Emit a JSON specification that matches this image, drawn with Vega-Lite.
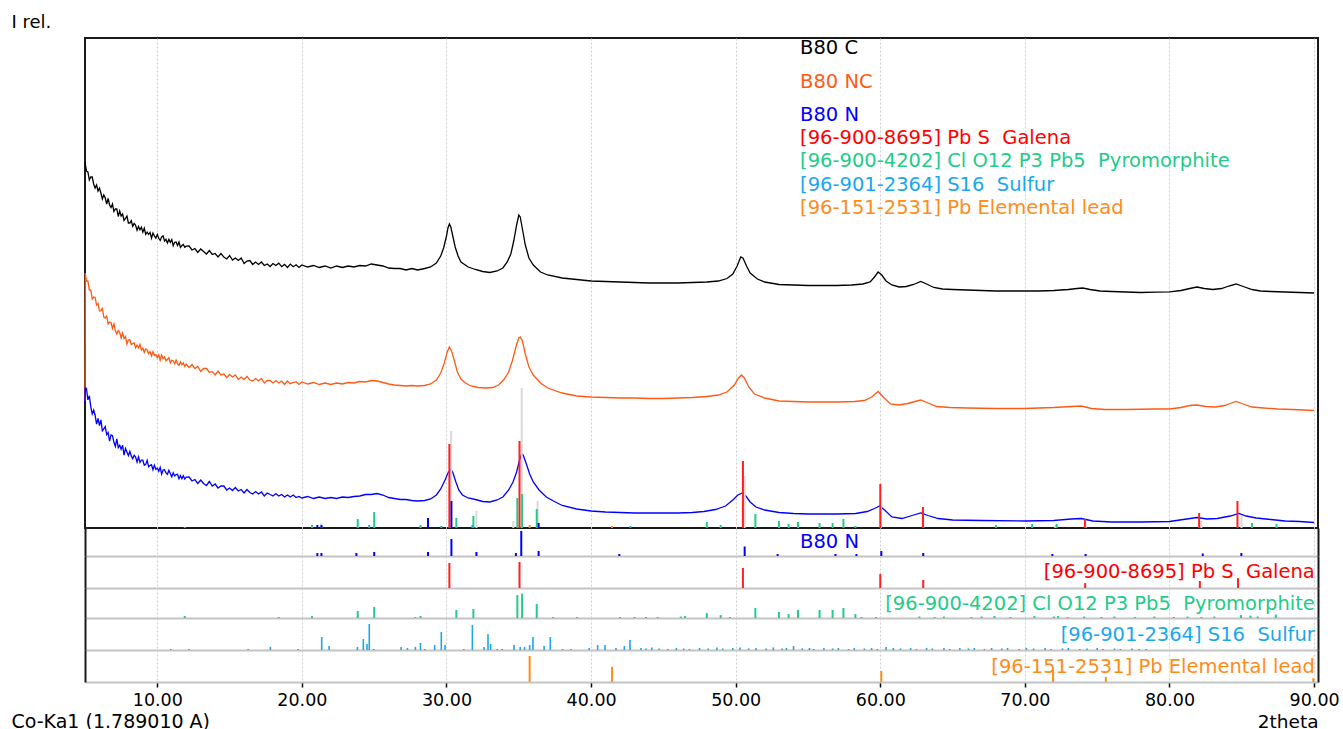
{
  "$schema": "https://vega.github.io/schema/vega-lite/v6.json",
  "autosize": {"type": "pad"},
  "padding": {"left": 10, "top": 12, "right": 2, "bottom": 0},
  "background": "white",
  "bounds": "flush",
  "spacing": 0,
  "config": {
    "font": "DejaVu Sans",
    "view": {"stroke": null},
    "axis": {"grid": false, "labels": false, "ticks": false, "domain": false, "title": null}
  },
  "datasets": {
    "curves": [
      {"s":"B80 C","t":5,"i":366},{"s":"B80 C","t":5.1,"i":357},{"s":"B80 C","t":5.2,"i":356},{"s":"B80 C","t":5.3,"i":348},{"s":"B80 C","t":5.4,"i":351},{"s":"B80 C","t":5.5,"i":351},{"s":"B80 C","t":5.6,"i":344},{"s":"B80 C","t":5.7,"i":340},{"s":"B80 C","t":5.8,"i":343},{"s":"B80 C","t":5.9,"i":337},{"s":"B80 C","t":6,"i":340},{"s":"B80 C","t":6.1,"i":335},{"s":"B80 C","t":6.2,"i":329},{"s":"B80 C","t":6.3,"i":333},{"s":"B80 C","t":6.4,"i":330},{"s":"B80 C","t":6.5,"i":324},{"s":"B80 C","t":6.6,"i":329.5},{"s":"B80 C","t":6.7,"i":323},{"s":"B80 C","t":6.8,"i":320.5},{"s":"B80 C","t":6.9,"i":324},{"s":"B80 C","t":7,"i":316.5},{"s":"B80 C","t":7.1,"i":319},{"s":"B80 C","t":7.2,"i":319},{"s":"B80 C","t":7.3,"i":311.5},{"s":"B80 C","t":7.4,"i":317},{"s":"B80 C","t":7.5,"i":312},{"s":"B80 C","t":7.6,"i":314},{"s":"B80 C","t":7.7,"i":307.5},{"s":"B80 C","t":7.8,"i":309.5},{"s":"B80 C","t":7.9,"i":312},{"s":"B80 C","t":8,"i":305},{"s":"B80 C","t":8.1,"i":305},{"s":"B80 C","t":8.2,"i":307.4},{"s":"B80 C","t":8.3,"i":301.6},{"s":"B80 C","t":8.4,"i":304.6},{"s":"B80 C","t":8.5,"i":302.8},{"s":"B80 C","t":8.6,"i":297.8},{"s":"B80 C","t":8.7,"i":301.6},{"s":"B80 C","t":8.8,"i":298.2},{"s":"B80 C","t":8.9,"i":300.9},{"s":"B80 C","t":9,"i":295.9},{"s":"B80 C","t":9.1,"i":299.7},{"s":"B80 C","t":9.2,"i":293.6},{"s":"B80 C","t":9.3,"i":295.8},{"s":"B80 C","t":9.4,"i":293.7},{"s":"B80 C","t":9.5,"i":295.6},{"s":"B80 C","t":9.6,"i":289.8},{"s":"B80 C","t":9.7,"i":294.9},{"s":"B80 C","t":9.8,"i":292},{"s":"B80 C","t":9.9,"i":289.9},{"s":"B80 C","t":10,"i":293.4},{"s":"B80 C","t":10.1,"i":289.7},{"s":"B80 C","t":10.2,"i":287.6},{"s":"B80 C","t":10.3,"i":291.1},{"s":"B80 C","t":10.4,"i":292.2},{"s":"B80 C","t":10.5,"i":286.9},{"s":"B80 C","t":10.6,"i":288.8},{"s":"B80 C","t":10.7,"i":285.1},{"s":"B80 C","t":10.8,"i":288.6},{"s":"B80 C","t":10.9,"i":285.7},{"s":"B80 C","t":11,"i":288.4},{"s":"B80 C","t":11.1,"i":282.3},{"s":"B80 C","t":11.2,"i":285.8},{"s":"B80 C","t":11.3,"i":286.1},{"s":"B80 C","t":11.4,"i":282.4},{"s":"B80 C","t":11.5,"i":285.9},{"s":"B80 C","t":11.6,"i":280.6},{"s":"B80 C","t":11.7,"i":282.5},{"s":"B80 C","t":11.8,"i":283.6},{"s":"B80 C","t":11.9,"i":280.7},{"s":"B80 C","t":12,"i":281.8},{"s":"B80 C","t":12.2,"i":282},{"s":"B80 C","t":12.4,"i":278},{"s":"B80 C","t":12.6,"i":279.5},{"s":"B80 C","t":12.8,"i":275.5},{"s":"B80 C","t":13,"i":279},{"s":"B80 C","t":13.2,"i":276.5},{"s":"B80 C","t":13.4,"i":274},{"s":"B80 C","t":13.6,"i":277.5},{"s":"B80 C","t":13.8,"i":273.5},{"s":"B80 C","t":14,"i":274.5},{"s":"B80 C","t":14.2,"i":271},{"s":"B80 C","t":14.4,"i":274.5},{"s":"B80 C","t":14.6,"i":271},{"s":"B80 C","t":14.8,"i":269},{"s":"B80 C","t":15,"i":272.5},{"s":"B80 C","t":15.2,"i":268},{"s":"B80 C","t":15.4,"i":270},{"s":"B80 C","t":15.6,"i":267.5},{"s":"B80 C","t":15.8,"i":270},{"s":"B80 C","t":16,"i":264.5},{"s":"B80 C","t":16.2,"i":267},{"s":"B80 C","t":16.4,"i":267.5},{"s":"B80 C","t":16.6,"i":263.5},{"s":"B80 C","t":16.8,"i":266},{"s":"B80 C","t":17,"i":263.5},{"s":"B80 C","t":17.2,"i":266},{"s":"B80 C","t":17.4,"i":262.5},{"s":"B80 C","t":17.6,"i":264},{"s":"B80 C","t":17.8,"i":261.5},{"s":"B80 C","t":18,"i":264.5},{"s":"B80 C","t":18.2,"i":262.5},{"s":"B80 C","t":18.4,"i":264.8},{"s":"B80 C","t":18.6,"i":261.3},{"s":"B80 C","t":18.8,"i":263.6},{"s":"B80 C","t":19,"i":260.5},{"s":"B80 C","t":19.2,"i":263.9},{"s":"B80 C","t":19.4,"i":261.3},{"s":"B80 C","t":19.6,"i":263.2},{"s":"B80 C","t":19.8,"i":260.6},{"s":"B80 C","t":20,"i":263},{"s":"B80 C","t":20.4,"i":261},{"s":"B80 C","t":20.8,"i":262.5},{"s":"B80 C","t":21.2,"i":260.5},{"s":"B80 C","t":21.6,"i":262},{"s":"B80 C","t":22,"i":260},{"s":"B80 C","t":22.4,"i":262},{"s":"B80 C","t":22.8,"i":260.5},{"s":"B80 C","t":23.2,"i":262},{"s":"B80 C","t":23.6,"i":261},{"s":"B80 C","t":24,"i":262.5},{"s":"B80 C","t":24.4,"i":262},{"s":"B80 C","t":24.8,"i":264},{"s":"B80 C","t":25.2,"i":263},{"s":"B80 C","t":25.6,"i":262},{"s":"B80 C","t":26,"i":260},{"s":"B80 C","t":26.4,"i":259.5},{"s":"B80 C","t":26.8,"i":259.5},{"s":"B80 C","t":27.2,"i":258},{"s":"B80 C","t":27.6,"i":259.5},{"s":"B80 C","t":28,"i":258},{"s":"B80 C","t":28.5,"i":259.5},{"s":"B80 C","t":28.9,"i":261},{"s":"B80 C","t":29.3,"i":265},{"s":"B80 C","t":29.6,"i":272},{"s":"B80 C","t":29.8,"i":280},{"s":"B80 C","t":30,"i":292},{"s":"B80 C","t":30.1,"i":300},{"s":"B80 C","t":30.2,"i":304},{"s":"B80 C","t":30.3,"i":301},{"s":"B80 C","t":30.45,"i":291},{"s":"B80 C","t":30.6,"i":281},{"s":"B80 C","t":30.8,"i":272},{"s":"B80 C","t":31,"i":266},{"s":"B80 C","t":31.5,"i":261},{"s":"B80 C","t":32,"i":258.5},{"s":"B80 C","t":32.5,"i":256.5},{"s":"B80 C","t":33,"i":255.5},{"s":"B80 C","t":33.5,"i":257},{"s":"B80 C","t":33.9,"i":260},{"s":"B80 C","t":34.2,"i":266},{"s":"B80 C","t":34.45,"i":274},{"s":"B80 C","t":34.65,"i":287},{"s":"B80 C","t":34.85,"i":303},{"s":"B80 C","t":35,"i":313},{"s":"B80 C","t":35.1,"i":311},{"s":"B80 C","t":35.25,"i":299},{"s":"B80 C","t":35.45,"i":283},{"s":"B80 C","t":35.7,"i":270},{"s":"B80 C","t":36,"i":263},{"s":"B80 C","t":36.5,"i":256},{"s":"B80 C","t":37,"i":253},{"s":"B80 C","t":38,"i":250},{"s":"B80 C","t":39,"i":248.5},{"s":"B80 C","t":40,"i":247},{"s":"B80 C","t":41,"i":246.5},{"s":"B80 C","t":42,"i":246},{"s":"B80 C","t":43,"i":245.5},{"s":"B80 C","t":44,"i":245},{"s":"B80 C","t":45,"i":245},{"s":"B80 C","t":46,"i":245},{"s":"B80 C","t":47,"i":245.5},{"s":"B80 C","t":48,"i":246},{"s":"B80 C","t":48.8,"i":247},{"s":"B80 C","t":49.4,"i":249.5},{"s":"B80 C","t":49.8,"i":254},{"s":"B80 C","t":50.1,"i":262},{"s":"B80 C","t":50.35,"i":271},{"s":"B80 C","t":50.5,"i":270},{"s":"B80 C","t":50.75,"i":262},{"s":"B80 C","t":51,"i":255},{"s":"B80 C","t":51.5,"i":249},{"s":"B80 C","t":52,"i":246},{"s":"B80 C","t":53,"i":243.5},{"s":"B80 C","t":54,"i":243},{"s":"B80 C","t":55,"i":242.5},{"s":"B80 C","t":56,"i":242.5},{"s":"B80 C","t":57,"i":242.5},{"s":"B80 C","t":58,"i":243},{"s":"B80 C","t":58.8,"i":244},{"s":"B80 C","t":59.3,"i":246},{"s":"B80 C","t":59.6,"i":251},{"s":"B80 C","t":59.85,"i":256},{"s":"B80 C","t":60.1,"i":253},{"s":"B80 C","t":60.4,"i":247},{"s":"B80 C","t":60.8,"i":243},{"s":"B80 C","t":61.3,"i":241},{"s":"B80 C","t":61.8,"i":241.5},{"s":"B80 C","t":62.3,"i":243.5},{"s":"B80 C","t":62.8,"i":246.5},{"s":"B80 C","t":63.2,"i":244},{"s":"B80 C","t":63.7,"i":240.5},{"s":"B80 C","t":64.3,"i":239},{"s":"B80 C","t":65,"i":238.5},{"s":"B80 C","t":66,"i":238},{"s":"B80 C","t":67,"i":237.5},{"s":"B80 C","t":68,"i":237},{"s":"B80 C","t":70,"i":237},{"s":"B80 C","t":71,"i":237},{"s":"B80 C","t":72,"i":237.5},{"s":"B80 C","t":73,"i":238.5},{"s":"B80 C","t":73.6,"i":239.5},{"s":"B80 C","t":74,"i":240},{"s":"B80 C","t":74.5,"i":238.5},{"s":"B80 C","t":75.2,"i":237},{"s":"B80 C","t":76,"i":236.5},{"s":"B80 C","t":77,"i":236},{"s":"B80 C","t":78,"i":235.5},{"s":"B80 C","t":79,"i":235.8},{"s":"B80 C","t":80,"i":236.2},{"s":"B80 C","t":80.8,"i":237.5},{"s":"B80 C","t":81.4,"i":239.5},{"s":"B80 C","t":81.9,"i":241},{"s":"B80 C","t":82.4,"i":239.5},{"s":"B80 C","t":83,"i":238.5},{"s":"B80 C","t":83.6,"i":239.5},{"s":"B80 C","t":84.1,"i":242},{"s":"B80 C","t":84.6,"i":244},{"s":"B80 C","t":85.1,"i":241.5},{"s":"B80 C","t":85.7,"i":238.5},{"s":"B80 C","t":86.3,"i":237},{"s":"B80 C","t":87,"i":236.5},{"s":"B80 C","t":88,"i":236},{"s":"B80 C","t":89,"i":235.5},{"s":"B80 C","t":90,"i":235},
      {"s":"B80 NC","t":5,"i":127},{"s":"B80 NC","t":5.02,"i":255},{"s":"B80 NC","t":5.1,"i":247},{"s":"B80 NC","t":5.2,"i":247},{"s":"B80 NC","t":5.3,"i":238},{"s":"B80 NC","t":5.4,"i":238},{"s":"B80 NC","t":5.5,"i":229},{"s":"B80 NC","t":5.6,"i":231},{"s":"B80 NC","t":5.7,"i":230.5},{"s":"B80 NC","t":5.8,"i":223},{"s":"B80 NC","t":5.9,"i":224.5},{"s":"B80 NC","t":6,"i":217},{"s":"B80 NC","t":6.1,"i":217.5},{"s":"B80 NC","t":6.2,"i":219.5},{"s":"B80 NC","t":6.3,"i":211},{"s":"B80 NC","t":6.4,"i":210},{"s":"B80 NC","t":6.5,"i":212},{"s":"B80 NC","t":6.6,"i":204},{"s":"B80 NC","t":6.7,"i":206},{"s":"B80 NC","t":6.8,"i":205.5},{"s":"B80 NC","t":6.9,"i":199.5},{"s":"B80 NC","t":7,"i":204},{"s":"B80 NC","t":7.1,"i":197.5},{"s":"B80 NC","t":7.2,"i":194},{"s":"B80 NC","t":7.3,"i":197.5},{"s":"B80 NC","t":7.4,"i":195.5},{"s":"B80 NC","t":7.5,"i":190},{"s":"B80 NC","t":7.6,"i":195},{"s":"B80 NC","t":7.7,"i":189.5},{"s":"B80 NC","t":7.8,"i":191.5},{"s":"B80 NC","t":7.9,"i":184},{"s":"B80 NC","t":8,"i":188},{"s":"B80 NC","t":8.1,"i":188.4},{"s":"B80 NC","t":8.2,"i":183.4},{"s":"B80 NC","t":8.3,"i":184.5},{"s":"B80 NC","t":8.4,"i":185.1},{"s":"B80 NC","t":8.5,"i":180.1},{"s":"B80 NC","t":8.6,"i":182.8},{"s":"B80 NC","t":8.7,"i":180.2},{"s":"B80 NC","t":8.8,"i":183.7},{"s":"B80 NC","t":8.9,"i":177.9},{"s":"B80 NC","t":9,"i":179.8},{"s":"B80 NC","t":9.1,"i":175.6},{"s":"B80 NC","t":9.2,"i":179.1},{"s":"B80 NC","t":9.3,"i":178.1},{"s":"B80 NC","t":9.4,"i":174.4},{"s":"B80 NC","t":9.5,"i":176.3},{"s":"B80 NC","t":9.6,"i":172.1},{"s":"B80 NC","t":9.7,"i":176.4},{"s":"B80 NC","t":9.8,"i":172.7},{"s":"B80 NC","t":9.9,"i":173.3},{"s":"B80 NC","t":10,"i":170.4},{"s":"B80 NC","t":10.1,"i":173.1},{"s":"B80 NC","t":10.2,"i":167.8},{"s":"B80 NC","t":10.3,"i":172.9},{"s":"B80 NC","t":10.4,"i":169.2},{"s":"B80 NC","t":10.5,"i":171.1},{"s":"B80 NC","t":10.6,"i":167.4},{"s":"B80 NC","t":10.7,"i":168.5},{"s":"B80 NC","t":10.8,"i":170.4},{"s":"B80 NC","t":10.9,"i":165.1},{"s":"B80 NC","t":11,"i":167.8},{"s":"B80 NC","t":11.1,"i":167.3},{"s":"B80 NC","t":11.2,"i":164.4},{"s":"B80 NC","t":11.3,"i":167.9},{"s":"B80 NC","t":11.4,"i":164.2},{"s":"B80 NC","t":11.5,"i":162.6},{"s":"B80 NC","t":11.6,"i":166.1},{"s":"B80 NC","t":11.7,"i":163.2},{"s":"B80 NC","t":11.8,"i":165.1},{"s":"B80 NC","t":11.9,"i":161.4},{"s":"B80 NC","t":12,"i":163.8},{"s":"B80 NC","t":12.2,"i":160.5},{"s":"B80 NC","t":12.4,"i":163.5},{"s":"B80 NC","t":12.6,"i":159.5},{"s":"B80 NC","t":12.8,"i":161.5},{"s":"B80 NC","t":13,"i":156.5},{"s":"B80 NC","t":13.2,"i":159.5},{"s":"B80 NC","t":13.4,"i":159.5},{"s":"B80 NC","t":13.6,"i":155.5},{"s":"B80 NC","t":13.8,"i":156.5},{"s":"B80 NC","t":14,"i":153},{"s":"B80 NC","t":14.2,"i":157},{"s":"B80 NC","t":14.4,"i":153},{"s":"B80 NC","t":14.6,"i":154},{"s":"B80 NC","t":14.8,"i":150.5},{"s":"B80 NC","t":15,"i":153.5},{"s":"B80 NC","t":15.2,"i":151},{"s":"B80 NC","t":15.4,"i":153},{"s":"B80 NC","t":15.6,"i":148.5},{"s":"B80 NC","t":15.8,"i":151},{"s":"B80 NC","t":16,"i":148.5},{"s":"B80 NC","t":16.2,"i":151.5},{"s":"B80 NC","t":16.4,"i":148},{"s":"B80 NC","t":16.6,"i":147},{"s":"B80 NC","t":16.8,"i":149.5},{"s":"B80 NC","t":17,"i":147},{"s":"B80 NC","t":17.2,"i":149.5},{"s":"B80 NC","t":17.4,"i":145},{"s":"B80 NC","t":17.6,"i":147.5},{"s":"B80 NC","t":17.8,"i":147.5},{"s":"B80 NC","t":18,"i":145},{"s":"B80 NC","t":18.2,"i":147.5},{"s":"B80 NC","t":18.4,"i":145},{"s":"B80 NC","t":18.6,"i":146.8},{"s":"B80 NC","t":18.8,"i":143.6},{"s":"B80 NC","t":19,"i":147},{"s":"B80 NC","t":19.2,"i":144.3},{"s":"B80 NC","t":19.4,"i":145.7},{"s":"B80 NC","t":19.6,"i":146.1},{"s":"B80 NC","t":19.8,"i":143.5},{"s":"B80 NC","t":20,"i":146},{"s":"B80 NC","t":20.4,"i":144},{"s":"B80 NC","t":20.8,"i":145.5},{"s":"B80 NC","t":21.2,"i":143.5},{"s":"B80 NC","t":21.6,"i":145},{"s":"B80 NC","t":22,"i":143.5},{"s":"B80 NC","t":22.4,"i":145},{"s":"B80 NC","t":22.8,"i":144},{"s":"B80 NC","t":23.2,"i":145.5},{"s":"B80 NC","t":23.6,"i":145},{"s":"B80 NC","t":24,"i":146.5},{"s":"B80 NC","t":24.4,"i":146},{"s":"B80 NC","t":24.8,"i":147.5},{"s":"B80 NC","t":25.2,"i":147},{"s":"B80 NC","t":25.6,"i":145.5},{"s":"B80 NC","t":26,"i":144},{"s":"B80 NC","t":26.4,"i":143},{"s":"B80 NC","t":26.8,"i":142.5},{"s":"B80 NC","t":27.2,"i":142},{"s":"B80 NC","t":27.6,"i":142.5},{"s":"B80 NC","t":28,"i":142},{"s":"B80 NC","t":28.5,"i":142.5},{"s":"B80 NC","t":28.9,"i":144},{"s":"B80 NC","t":29.3,"i":148},{"s":"B80 NC","t":29.6,"i":155},{"s":"B80 NC","t":29.85,"i":165},{"s":"B80 NC","t":30.05,"i":176},{"s":"B80 NC","t":30.2,"i":181},{"s":"B80 NC","t":30.35,"i":177},{"s":"B80 NC","t":30.55,"i":167},{"s":"B80 NC","t":30.75,"i":156},{"s":"B80 NC","t":31,"i":149},{"s":"B80 NC","t":31.3,"i":145},{"s":"B80 NC","t":31.7,"i":142},{"s":"B80 NC","t":32.2,"i":140.5},{"s":"B80 NC","t":32.7,"i":140},{"s":"B80 NC","t":33.2,"i":140.5},{"s":"B80 NC","t":33.6,"i":143},{"s":"B80 NC","t":34,"i":149},{"s":"B80 NC","t":34.3,"i":156},{"s":"B80 NC","t":34.55,"i":167},{"s":"B80 NC","t":34.8,"i":181},{"s":"B80 NC","t":35,"i":190},{"s":"B80 NC","t":35.1,"i":191},{"s":"B80 NC","t":35.25,"i":187},{"s":"B80 NC","t":35.45,"i":174},{"s":"B80 NC","t":35.7,"i":161},{"s":"B80 NC","t":36,"i":153},{"s":"B80 NC","t":36.5,"i":145},{"s":"B80 NC","t":37,"i":140},{"s":"B80 NC","t":38,"i":135},{"s":"B80 NC","t":39,"i":132},{"s":"B80 NC","t":40,"i":131},{"s":"B80 NC","t":41,"i":130.5},{"s":"B80 NC","t":42,"i":130},{"s":"B80 NC","t":43,"i":130},{"s":"B80 NC","t":44,"i":129.5},{"s":"B80 NC","t":45,"i":129.5},{"s":"B80 NC","t":46,"i":130},{"s":"B80 NC","t":47,"i":130.5},{"s":"B80 NC","t":48,"i":131.5},{"s":"B80 NC","t":48.8,"i":133},{"s":"B80 NC","t":49.4,"i":136},{"s":"B80 NC","t":49.9,"i":143},{"s":"B80 NC","t":50.2,"i":150},{"s":"B80 NC","t":50.4,"i":153},{"s":"B80 NC","t":50.6,"i":150},{"s":"B80 NC","t":50.9,"i":141},{"s":"B80 NC","t":51.3,"i":134},{"s":"B80 NC","t":52,"i":130},{"s":"B80 NC","t":53,"i":127},{"s":"B80 NC","t":54,"i":126.5},{"s":"B80 NC","t":55,"i":126},{"s":"B80 NC","t":57,"i":126},{"s":"B80 NC","t":58.2,"i":126.5},{"s":"B80 NC","t":58.9,"i":127.5},{"s":"B80 NC","t":59.4,"i":131},{"s":"B80 NC","t":59.85,"i":136.5},{"s":"B80 NC","t":60.2,"i":131},{"s":"B80 NC","t":60.7,"i":124},{"s":"B80 NC","t":61.3,"i":123},{"s":"B80 NC","t":61.9,"i":124.5},{"s":"B80 NC","t":62.4,"i":126.5},{"s":"B80 NC","t":62.8,"i":128},{"s":"B80 NC","t":63.3,"i":125},{"s":"B80 NC","t":63.9,"i":121.5},{"s":"B80 NC","t":64.8,"i":120.5},{"s":"B80 NC","t":66,"i":120},{"s":"B80 NC","t":68,"i":119.5},{"s":"B80 NC","t":70,"i":119.5},{"s":"B80 NC","t":71,"i":120},{"s":"B80 NC","t":72,"i":120.5},{"s":"B80 NC","t":73.2,"i":121.5},{"s":"B80 NC","t":73.9,"i":122},{"s":"B80 NC","t":74.6,"i":119.5},{"s":"B80 NC","t":75.5,"i":118.5},{"s":"B80 NC","t":77,"i":118.5},{"s":"B80 NC","t":79,"i":119},{"s":"B80 NC","t":80,"i":119},{"s":"B80 NC","t":80.8,"i":120.5},{"s":"B80 NC","t":81.4,"i":122.5},{"s":"B80 NC","t":81.9,"i":123},{"s":"B80 NC","t":82.5,"i":121.5},{"s":"B80 NC","t":83.2,"i":121},{"s":"B80 NC","t":83.8,"i":122.5},{"s":"B80 NC","t":84.3,"i":125},{"s":"B80 NC","t":84.6,"i":126.5},{"s":"B80 NC","t":85.1,"i":124},{"s":"B80 NC","t":85.7,"i":121},{"s":"B80 NC","t":86.5,"i":120},{"s":"B80 NC","t":87.5,"i":119},{"s":"B80 NC","t":88.5,"i":118.5},{"s":"B80 NC","t":90,"i":117.5},
      {"s":"B80 N","t":5,"i":124},{"s":"B80 N","t":5.02,"i":140},{"s":"B80 N","t":5.1,"i":139.6},{"s":"B80 N","t":5.2,"i":128.1},{"s":"B80 N","t":5.3,"i":132.2},{"s":"B80 N","t":5.4,"i":121.2},{"s":"B80 N","t":5.5,"i":114.1},{"s":"B80 N","t":5.6,"i":117.9},{"s":"B80 N","t":5.7,"i":112.8},{"s":"B80 N","t":5.8,"i":103.8},{"s":"B80 N","t":5.9,"i":109.6},{"s":"B80 N","t":6,"i":102.4},{"s":"B80 N","t":6.1,"i":108.2},{"s":"B80 N","t":6.2,"i":97.1},{"s":"B80 N","t":6.3,"i":99},{"s":"B80 N","t":6.4,"i":101.4},{"s":"B80 N","t":6.5,"i":93.4},{"s":"B80 N","t":6.6,"i":95.3},{"s":"B80 N","t":6.7,"i":86.8},{"s":"B80 N","t":6.8,"i":93.1},{"s":"B80 N","t":6.9,"i":92.4},{"s":"B80 N","t":7,"i":85.7},{"s":"B80 N","t":7.1,"i":81.6},{"s":"B80 N","t":7.2,"i":89.2},{"s":"B80 N","t":7.3,"i":80.4},{"s":"B80 N","t":7.4,"i":82.8},{"s":"B80 N","t":7.5,"i":78.7},{"s":"B80 N","t":7.6,"i":82.9},{"s":"B80 N","t":7.7,"i":72.8},{"s":"B80 N","t":7.8,"i":79.6},{"s":"B80 N","t":7.9,"i":76},{"s":"B80 N","t":8,"i":72.4},{"s":"B80 N","t":8.1,"i":76.7},{"s":"B80 N","t":8.2,"i":72.1},{"s":"B80 N","t":8.3,"i":69.3},{"s":"B80 N","t":8.4,"i":72.8},{"s":"B80 N","t":8.5,"i":70.9},{"s":"B80 N","t":8.6,"i":65.9},{"s":"B80 N","t":8.7,"i":71.2},{"s":"B80 N","t":8.8,"i":65.7},{"s":"B80 N","t":8.9,"i":67.9},{"s":"B80 N","t":9,"i":67.8},{"s":"B80 N","t":9.1,"i":62.8},{"s":"B80 N","t":9.2,"i":63.6},{"s":"B80 N","t":9.3,"i":67.6},{"s":"B80 N","t":9.4,"i":61.2},{"s":"B80 N","t":9.5,"i":62.5},{"s":"B80 N","t":9.6,"i":63.3},{"s":"B80 N","t":9.7,"i":58.3},{"s":"B80 N","t":9.8,"i":62.7},{"s":"B80 N","t":9.9,"i":58.6},{"s":"B80 N","t":10,"i":59.9},{"s":"B80 N","t":10.1,"i":56.7},{"s":"B80 N","t":10.2,"i":60.7},{"s":"B80 N","t":10.3,"i":53.9},{"s":"B80 N","t":10.4,"i":57.9},{"s":"B80 N","t":10.5,"i":58.3},{"s":"B80 N","t":10.6,"i":55.1},{"s":"B80 N","t":10.7,"i":53.7},{"s":"B80 N","t":10.8,"i":57.7},{"s":"B80 N","t":10.9,"i":54.5},{"s":"B80 N","t":11,"i":51.3},{"s":"B80 N","t":11.1,"i":55.3},{"s":"B80 N","t":11.2,"i":52.1},{"s":"B80 N","t":11.3,"i":53.4},{"s":"B80 N","t":11.4,"i":53.8},{"s":"B80 N","t":11.5,"i":49.3},{"s":"B80 N","t":11.6,"i":52.4},{"s":"B80 N","t":11.7,"i":49.2},{"s":"B80 N","t":11.8,"i":52.3},{"s":"B80 N","t":11.9,"i":49.1},{"s":"B80 N","t":12,"i":50.9},{"s":"B80 N","t":12.2,"i":51},{"s":"B80 N","t":12.4,"i":47},{"s":"B80 N","t":12.6,"i":48.5},{"s":"B80 N","t":12.8,"i":44.5},{"s":"B80 N","t":13,"i":48},{"s":"B80 N","t":13.2,"i":44.5},{"s":"B80 N","t":13.4,"i":42.5},{"s":"B80 N","t":13.6,"i":46.5},{"s":"B80 N","t":13.8,"i":42},{"s":"B80 N","t":14,"i":44},{"s":"B80 N","t":14.2,"i":40},{"s":"B80 N","t":14.4,"i":42},{"s":"B80 N","t":14.6,"i":42},{"s":"B80 N","t":14.8,"i":38},{"s":"B80 N","t":15,"i":40},{"s":"B80 N","t":15.2,"i":37.5},{"s":"B80 N","t":15.4,"i":40.5},{"s":"B80 N","t":15.6,"i":37},{"s":"B80 N","t":15.8,"i":38.5},{"s":"B80 N","t":16,"i":35},{"s":"B80 N","t":16.2,"i":38.5},{"s":"B80 N","t":16.4,"i":35.5},{"s":"B80 N","t":16.6,"i":34},{"s":"B80 N","t":16.8,"i":36.5},{"s":"B80 N","t":17,"i":34},{"s":"B80 N","t":17.2,"i":36},{"s":"B80 N","t":17.4,"i":32},{"s":"B80 N","t":17.6,"i":35},{"s":"B80 N","t":17.8,"i":33.5},{"s":"B80 N","t":18,"i":32},{"s":"B80 N","t":18.2,"i":34.5},{"s":"B80 N","t":18.4,"i":32},{"s":"B80 N","t":18.6,"i":33.5},{"s":"B80 N","t":18.8,"i":31},{"s":"B80 N","t":19,"i":33},{"s":"B80 N","t":19.2,"i":31},{"s":"B80 N","t":19.4,"i":33},{"s":"B80 N","t":19.6,"i":30.5},{"s":"B80 N","t":19.8,"i":31.5},{"s":"B80 N","t":20,"i":30},{"s":"B80 N","t":20.4,"i":31.5},{"s":"B80 N","t":20.8,"i":29.5},{"s":"B80 N","t":21.2,"i":31},{"s":"B80 N","t":21.6,"i":29.5},{"s":"B80 N","t":22,"i":30.5},{"s":"B80 N","t":22.4,"i":29.5},{"s":"B80 N","t":22.8,"i":31},{"s":"B80 N","t":23.2,"i":30.5},{"s":"B80 N","t":23.6,"i":31.5},{"s":"B80 N","t":24,"i":32},{"s":"B80 N","t":24.4,"i":33.5},{"s":"B80 N","t":24.8,"i":33.5},{"s":"B80 N","t":25.2,"i":34.5},{"s":"B80 N","t":25.6,"i":33},{"s":"B80 N","t":26,"i":30.5},{"s":"B80 N","t":26.4,"i":29.5},{"s":"B80 N","t":26.8,"i":28.5},{"s":"B80 N","t":27.2,"i":28.5},{"s":"B80 N","t":27.6,"i":27.5},{"s":"B80 N","t":28,"i":27},{"s":"B80 N","t":28.5,"i":27.5},{"s":"B80 N","t":28.9,"i":29},{"s":"B80 N","t":29.3,"i":33},{"s":"B80 N","t":29.6,"i":39},{"s":"B80 N","t":29.9,"i":48},{"s":"B80 N","t":30.1,"i":55},{"s":"B80 N","t":30.3,"i":59},{"s":"B80 N","t":30.45,"i":55},{"s":"B80 N","t":30.65,"i":46},{"s":"B80 N","t":30.85,"i":38},{"s":"B80 N","t":31.1,"i":33},{"s":"B80 N","t":31.5,"i":30},{"s":"B80 N","t":32,"i":28.5},{"s":"B80 N","t":32.5,"i":26.5},{"s":"B80 N","t":33,"i":26},{"s":"B80 N","t":33.5,"i":28},{"s":"B80 N","t":33.9,"i":31},{"s":"B80 N","t":34.3,"i":38},{"s":"B80 N","t":34.6,"i":46},{"s":"B80 N","t":34.85,"i":56},{"s":"B80 N","t":35.05,"i":68},{"s":"B80 N","t":35.2,"i":74},{"s":"B80 N","t":35.3,"i":73},{"s":"B80 N","t":35.5,"i":65},{"s":"B80 N","t":35.75,"i":54},{"s":"B80 N","t":36,"i":46},{"s":"B80 N","t":36.4,"i":38},{"s":"B80 N","t":36.9,"i":31},{"s":"B80 N","t":37.4,"i":27},{"s":"B80 N","t":38,"i":22.5},{"s":"B80 N","t":39,"i":19},{"s":"B80 N","t":40,"i":17},{"s":"B80 N","t":41,"i":16},{"s":"B80 N","t":42,"i":15.5},{"s":"B80 N","t":43,"i":15},{"s":"B80 N","t":44,"i":15},{"s":"B80 N","t":45,"i":15},{"s":"B80 N","t":46,"i":15},{"s":"B80 N","t":47,"i":15.5},{"s":"B80 N","t":47.8,"i":16.5},{"s":"B80 N","t":48.6,"i":18.5},{"s":"B80 N","t":49.3,"i":22},{"s":"B80 N","t":49.8,"i":28},{"s":"B80 N","t":50.15,"i":33},{"s":"B80 N","t":50.45,"i":35},{"s":"B80 N","t":50.7,"i":32},{"s":"B80 N","t":51,"i":26},{"s":"B80 N","t":51.4,"i":21},{"s":"B80 N","t":52,"i":18},{"s":"B80 N","t":53,"i":15.5},{"s":"B80 N","t":54,"i":14.5},{"s":"B80 N","t":55,"i":14},{"s":"B80 N","t":57,"i":14},{"s":"B80 N","t":58.3,"i":14.5},{"s":"B80 N","t":59.1,"i":16.5},{"s":"B80 N","t":59.6,"i":19.5},{"s":"B80 N","t":59.95,"i":22},{"s":"B80 N","t":60.3,"i":18},{"s":"B80 N","t":60.8,"i":11},{"s":"B80 N","t":61.5,"i":9.5},{"s":"B80 N","t":62.2,"i":12.5},{"s":"B80 N","t":62.8,"i":15},{"s":"B80 N","t":63.3,"i":12.5},{"s":"B80 N","t":64,"i":9.5},{"s":"B80 N","t":65,"i":8},{"s":"B80 N","t":67,"i":7.5},{"s":"B80 N","t":70,"i":7},{"s":"B80 N","t":72,"i":7.5},{"s":"B80 N","t":73.2,"i":9},{"s":"B80 N","t":73.9,"i":9.5},{"s":"B80 N","t":74.7,"i":7},{"s":"B80 N","t":76,"i":6},{"s":"B80 N","t":78,"i":6},{"s":"B80 N","t":80,"i":6.5},{"s":"B80 N","t":81.2,"i":9},{"s":"B80 N","t":81.9,"i":10.5},{"s":"B80 N","t":82.6,"i":9},{"s":"B80 N","t":83.3,"i":9.5},{"s":"B80 N","t":84.2,"i":12},{"s":"B80 N","t":84.8,"i":14.5},{"s":"B80 N","t":85.3,"i":12},{"s":"B80 N","t":86,"i":10},{"s":"B80 N","t":87,"i":8.5},{"s":"B80 N","t":88,"i":7},{"s":"B80 N","t":89,"i":6.5},{"s":"B80 N","t":90,"i":5.5}
    ],
    "msticks": [
      {"p":"peaks","t":21.35,"i":5},{"p":"peaks","t":30.32,"i":97},{"p":"peaks","t":32.07,"i":17},{"p":"peaks","t":34.62,"i":7},{"p":"peaks","t":35.2,"i":140},{"p":"peaks","t":36.3,"i":27},{"p":"peaks","t":50.62,"i":52},{"p":"peaks","t":60.05,"i":22},{"p":"peaks","t":62.98,"i":10},{"p":"peaks","t":72.1,"i":3},{"p":"peaks","t":74.2,"i":6},{"p":"peaks","t":82.2,"i":7},{"p":"peaks","t":84.98,"i":12},
      {"p":"Pyromorphite","t":11.9,"i":1},{"p":"Pyromorphite","t":20.7,"i":3},{"p":"Pyromorphite","t":23.86,"i":9},{"p":"Pyromorphite","t":25.0,"i":16},{"p":"Pyromorphite","t":28.2,"i":3},{"p":"Pyromorphite","t":30.68,"i":10},{"p":"Pyromorphite","t":31.86,"i":12},{"p":"Pyromorphite","t":34.9,"i":30},{"p":"Pyromorphite","t":35.23,"i":34},{"p":"Pyromorphite","t":36.24,"i":19},{"p":"Pyromorphite","t":48.0,"i":6},{"p":"Pyromorphite","t":48.96,"i":3},{"p":"Pyromorphite","t":51.36,"i":14},{"p":"Pyromorphite","t":52.99,"i":7},{"p":"Pyromorphite","t":53.66,"i":4},{"p":"Pyromorphite","t":54.31,"i":6},{"p":"Pyromorphite","t":55.8,"i":5},{"p":"Pyromorphite","t":56.7,"i":5},{"p":"Pyromorphite","t":57.45,"i":9},{"p":"Pyromorphite","t":58.28,"i":2},{"p":"Pyromorphite","t":68.0,"i":3},{"p":"Pyromorphite","t":70.5,"i":4},{"p":"Pyromorphite","t":72.2,"i":4},{"p":"Pyromorphite","t":85.7,"i":5},{"p":"Pyromorphite","t":87.4,"i":4},
      {"p":"Sulfur","t":21.37,"i":2},{"p":"Sulfur","t":24.66,"i":3},{"p":"Sulfur","t":29.64,"i":2},{"p":"Sulfur","t":31.79,"i":3},{"p":"Sulfur","t":42.72,"i":2},
      {"p":"B80 N","t":21.07,"i":3},{"p":"B80 N","t":21.35,"i":3},{"p":"B80 N","t":28.72,"i":10},{"p":"B80 N","t":30.34,"i":27},{"p":"B80 N","t":36.37,"i":5},
      {"p":"Lead","t":35.75,"i":3},{"p":"Lead","t":41.45,"i":2},
      {"p":"Galena","t":30.2,"i":84},{"p":"Galena","t":35.05,"i":87},{"p":"Galena","t":50.5,"i":67},{"p":"Galena","t":60.0,"i":44},{"p":"Galena","t":62.95,"i":21},{"p":"Galena","t":74.15,"i":9},{"p":"Galena","t":82.05,"i":15},{"p":"Galena","t":84.7,"i":27}
    ],
    "ref": [
      {"p":"B80 N","t":21.07,"i":12},{"p":"B80 N","t":21.35,"i":12},{"p":"B80 N","t":23.77,"i":12},{"p":"B80 N","t":25.0,"i":16},{"p":"B80 N","t":28.72,"i":16},{"p":"B80 N","t":30.34,"i":68},{"p":"B80 N","t":32.07,"i":16},{"p":"B80 N","t":34.8,"i":12},{"p":"B80 N","t":35.17,"i":100},{"p":"B80 N","t":36.37,"i":20},{"p":"B80 N","t":41.95,"i":8},{"p":"B80 N","t":50.62,"i":38},{"p":"B80 N","t":52.9,"i":8},{"p":"B80 N","t":56.9,"i":8},{"p":"B80 N","t":58.35,"i":8},{"p":"B80 N","t":60.07,"i":20},{"p":"B80 N","t":62.97,"i":12},{"p":"B80 N","t":71.9,"i":8},{"p":"B80 N","t":74.2,"i":8},{"p":"B80 N","t":82.3,"i":10},{"p":"B80 N","t":84.97,"i":12},
      {"p":"Galena","t":30.2,"i":96},{"p":"Galena","t":35.05,"i":100},{"p":"Galena","t":50.5,"i":77},{"p":"Galena","t":60.0,"i":54},{"p":"Galena","t":62.97,"i":31},{"p":"Galena","t":74.17,"i":19},{"p":"Galena","t":82.1,"i":27},{"p":"Galena","t":84.74,"i":38},
      {"p":"Pyromorphite","t":11.9,"i":8},{"p":"Pyromorphite","t":18.4,"i":4},{"p":"Pyromorphite","t":20.7,"i":8},{"p":"Pyromorphite","t":23.86,"i":29},{"p":"Pyromorphite","t":25.0,"i":45},{"p":"Pyromorphite","t":27.85,"i":4},{"p":"Pyromorphite","t":28.2,"i":8},{"p":"Pyromorphite","t":30.68,"i":33},{"p":"Pyromorphite","t":31.86,"i":37},{"p":"Pyromorphite","t":34.9,"i":94},{"p":"Pyromorphite","t":35.23,"i":100},{"p":"Pyromorphite","t":36.24,"i":57},{"p":"Pyromorphite","t":37.37,"i":4},{"p":"Pyromorphite","t":39.03,"i":4},{"p":"Pyromorphite","t":42.0,"i":4},{"p":"Pyromorphite","t":43.0,"i":4},{"p":"Pyromorphite","t":43.8,"i":4},{"p":"Pyromorphite","t":44.6,"i":4},{"p":"Pyromorphite","t":46.2,"i":6},{"p":"Pyromorphite","t":46.5,"i":8},{"p":"Pyromorphite","t":48.0,"i":20},{"p":"Pyromorphite","t":48.96,"i":12},{"p":"Pyromorphite","t":49.6,"i":4},{"p":"Pyromorphite","t":51.36,"i":41},{"p":"Pyromorphite","t":52.99,"i":25},{"p":"Pyromorphite","t":53.66,"i":16},{"p":"Pyromorphite","t":54.31,"i":33},{"p":"Pyromorphite","t":55.8,"i":33},{"p":"Pyromorphite","t":56.7,"i":33},{"p":"Pyromorphite","t":57.45,"i":41},{"p":"Pyromorphite","t":58.28,"i":16},{"p":"Pyromorphite","t":58.7,"i":4},{"p":"Pyromorphite","t":59.7,"i":4},{"p":"Pyromorphite","t":62.7,"i":6},{"p":"Pyromorphite","t":63.75,"i":4},{"p":"Pyromorphite","t":64.4,"i":6},{"p":"Pyromorphite","t":66.3,"i":4},{"p":"Pyromorphite","t":67.0,"i":6},{"p":"Pyromorphite","t":67.9,"i":8},{"p":"Pyromorphite","t":69.0,"i":4},{"p":"Pyromorphite","t":70.65,"i":8},{"p":"Pyromorphite","t":72.0,"i":6},{"p":"Pyromorphite","t":72.3,"i":8},{"p":"Pyromorphite","t":72.95,"i":4},{"p":"Pyromorphite","t":74.1,"i":6},{"p":"Pyromorphite","t":75.3,"i":4},{"p":"Pyromorphite","t":76.2,"i":6},{"p":"Pyromorphite","t":77.6,"i":4},{"p":"Pyromorphite","t":78.95,"i":6},{"p":"Pyromorphite","t":80.3,"i":4},{"p":"Pyromorphite","t":81.25,"i":6},{"p":"Pyromorphite","t":82.2,"i":4},{"p":"Pyromorphite","t":83.1,"i":6},{"p":"Pyromorphite","t":84.95,"i":12},{"p":"Pyromorphite","t":85.6,"i":10},{"p":"Pyromorphite","t":86.1,"i":6},{"p":"Pyromorphite","t":87.35,"i":14},
      {"p":"Sulfur","t":10.93,"i":4},{"p":"Sulfur","t":12.2,"i":4},{"p":"Sulfur","t":16.28,"i":4},{"p":"Sulfur","t":17.82,"i":12},{"p":"Sulfur","t":19.73,"i":4},{"p":"Sulfur","t":21.37,"i":50},{"p":"Sulfur","t":21.88,"i":15},{"p":"Sulfur","t":23.84,"i":12},{"p":"Sulfur","t":24.25,"i":42},{"p":"Sulfur","t":24.5,"i":23},{"p":"Sulfur","t":24.66,"i":100},{"p":"Sulfur","t":24.97,"i":4},{"p":"Sulfur","t":26.86,"i":12},{"p":"Sulfur","t":27.3,"i":8},{"p":"Sulfur","t":27.85,"i":12},{"p":"Sulfur","t":28.2,"i":27},{"p":"Sulfur","t":28.5,"i":4},{"p":"Sulfur","t":29.18,"i":19},{"p":"Sulfur","t":29.64,"i":69},{"p":"Sulfur","t":29.9,"i":19},{"p":"Sulfur","t":31.2,"i":4},{"p":"Sulfur","t":31.79,"i":96},{"p":"Sulfur","t":32.6,"i":12},{"p":"Sulfur","t":32.87,"i":61},{"p":"Sulfur","t":33.05,"i":23},{"p":"Sulfur","t":33.5,"i":4},{"p":"Sulfur","t":33.85,"i":4},{"p":"Sulfur","t":34.67,"i":19},{"p":"Sulfur","t":35.1,"i":12},{"p":"Sulfur","t":35.4,"i":12},{"p":"Sulfur","t":35.75,"i":19},{"p":"Sulfur","t":35.98,"i":50},{"p":"Sulfur","t":36.75,"i":15},{"p":"Sulfur","t":37.18,"i":50},{"p":"Sulfur","t":38.03,"i":4},{"p":"Sulfur","t":38.6,"i":4},{"p":"Sulfur","t":39.87,"i":8},{"p":"Sulfur","t":40.45,"i":19},{"p":"Sulfur","t":40.96,"i":19},{"p":"Sulfur","t":41.72,"i":8},{"p":"Sulfur","t":42.3,"i":15},{"p":"Sulfur","t":42.69,"i":38},{"p":"Sulfur","t":43.45,"i":8},{"p":"Sulfur","t":43.8,"i":6},{"p":"Sulfur","t":44.2,"i":10},{"p":"Sulfur","t":44.7,"i":6},{"p":"Sulfur","t":45.3,"i":4},{"p":"Sulfur","t":45.9,"i":8},{"p":"Sulfur","t":46.4,"i":6},{"p":"Sulfur","t":46.8,"i":4},{"p":"Sulfur","t":47.5,"i":8},{"p":"Sulfur","t":48.1,"i":6},{"p":"Sulfur","t":48.7,"i":10},{"p":"Sulfur","t":49.1,"i":6},{"p":"Sulfur","t":49.8,"i":8},{"p":"Sulfur","t":50.3,"i":10},{"p":"Sulfur","t":50.9,"i":6},{"p":"Sulfur","t":51.4,"i":8},{"p":"Sulfur","t":52.1,"i":6},{"p":"Sulfur","t":52.6,"i":10},{"p":"Sulfur","t":53.2,"i":6},{"p":"Sulfur","t":53.5,"i":8},{"p":"Sulfur","t":54.0,"i":15},{"p":"Sulfur","t":54.6,"i":6},{"p":"Sulfur","t":55.1,"i":8},{"p":"Sulfur","t":55.4,"i":4},{"p":"Sulfur","t":56.1,"i":8},{"p":"Sulfur","t":56.7,"i":6},{"p":"Sulfur","t":57.1,"i":8},{"p":"Sulfur","t":57.8,"i":4},{"p":"Sulfur","t":58.2,"i":8},{"p":"Sulfur","t":58.9,"i":6},{"p":"Sulfur","t":59.4,"i":8},{"p":"Sulfur","t":59.8,"i":4},{"p":"Sulfur","t":60.4,"i":12},{"p":"Sulfur","t":60.9,"i":8},{"p":"Sulfur","t":61.4,"i":6},{"p":"Sulfur","t":62.1,"i":8},{"p":"Sulfur","t":62.5,"i":4},{"p":"Sulfur","t":63.2,"i":8},{"p":"Sulfur","t":63.6,"i":6},{"p":"Sulfur","t":64.4,"i":8},{"p":"Sulfur","t":64.8,"i":4},{"p":"Sulfur","t":65.5,"i":8},{"p":"Sulfur","t":66.1,"i":6},{"p":"Sulfur","t":66.5,"i":8},{"p":"Sulfur","t":67.2,"i":4},{"p":"Sulfur","t":67.7,"i":8},{"p":"Sulfur","t":68.4,"i":6},{"p":"Sulfur","t":68.8,"i":8},{"p":"Sulfur","t":69.6,"i":4},{"p":"Sulfur","t":70.1,"i":8},{"p":"Sulfur","t":70.6,"i":6},{"p":"Sulfur","t":71.4,"i":8},{"p":"Sulfur","t":71.8,"i":4},{"p":"Sulfur","t":72.6,"i":6},{"p":"Sulfur","t":73.0,"i":8},{"p":"Sulfur","t":73.8,"i":4},{"p":"Sulfur","t":74.3,"i":6},{"p":"Sulfur","t":75.0,"i":8},{"p":"Sulfur","t":75.4,"i":4},{"p":"Sulfur","t":76.2,"i":6},{"p":"Sulfur","t":76.6,"i":4},{"p":"Sulfur","t":77.4,"i":6},{"p":"Sulfur","t":77.9,"i":4},{"p":"Sulfur","t":78.4,"i":4},
      {"p":"Lead","t":35.75,"i":100},{"p":"Lead","t":41.45,"i":58},{"p":"Lead","t":60.07,"i":42},{"p":"Lead","t":71.95,"i":46},{"p":"Lead","t":75.6,"i":19},{"p":"Lead","t":89.95,"i":15}
    ]
  },
  "vconcat": [
    {
      "width": 1233,
      "height": 490,
      "view": {"stroke": "#1a1a1a", "strokeWidth": 2},
      "layer": [
        {
          "data": {"name": "curves"},
          "mark": {"type": "line", "strokeWidth": 1.3},
          "encoding": {
            "x": {"field": "t", "type": "quantitative", "scale": {"domain": [5, 90.27], "nice": false, "zero": false},
                  "axis": {"grid": true, "gridColor": "#cfcfcf", "gridDash": [2, 2], "values": [10, 20, 30, 40, 50, 60, 70, 80, 90]}},
            "y": {"field": "i", "type": "quantitative", "scale": {"domain": [0, 490], "nice": false, "zero": false},
                  "axis": {"title": "I rel.", "titleAngle": 0, "titleAlign": "left", "titleBaseline": "alphabetic", "titleX": -74, "titleY": -11, "titleFontSize": 18, "titleFontWeight": "normal", "titleColor": "#000000", "titlePadding": 0}},
            "color": {"field": "s", "type": "nominal", "legend": null,
                      "scale": {"domain": ["B80 C", "B80 NC", "B80 N", "Galena", "Pyromorphite", "Sulfur", "Lead", "peaks"], "range": ["#000000", "#ff5a14", "#0000ff", "#ff1f1f", "#22cc88", "#1aa7ee", "#ff8c19", "#d9d9d9"]}}
          }
        },
        {
          "data": {"name": "msticks"},
          "mark": {"type": "rule", "strokeWidth": 2},
          "encoding": {
            "x": {"field": "t", "type": "quantitative"},
            "y": {"field": "i", "type": "quantitative"},
            "y2": {"datum": 0},
            "color": {"field": "p", "type": "nominal", "legend": null}
          }
        },
        {"data": {"values": [{}]}, "mark": {"type": "text", "align": "left", "baseline": "alphabetic", "fontSize": 19.5, "color": "#000000"},
         "encoding": {"x": {"datum": 54.45}, "y": {"datum": 474}, "text": {"value": "B80 C"}}},
        {"data": {"values": [{}]}, "mark": {"type": "text", "align": "left", "baseline": "alphabetic", "fontSize": 19.5, "color": "#ff5a14"},
         "encoding": {"x": {"datum": 54.45}, "y": {"datum": 440}, "text": {"value": "B80 NC"}}},
        {"data": {"values": [{}]}, "mark": {"type": "text", "align": "left", "baseline": "alphabetic", "fontSize": 19.5, "color": "#0000ff"},
         "encoding": {"x": {"datum": 54.45}, "y": {"datum": 407}, "text": {"value": "B80 N"}}},
        {"data": {"values": [{}]}, "mark": {"type": "text", "align": "left", "baseline": "alphabetic", "fontSize": 19.5, "color": "#ff0000"},
         "encoding": {"x": {"datum": 54.45}, "y": {"datum": 384}, "text": {"value": "[96-900-8695] Pb S\u00a0 Galena"}}},
        {"data": {"values": [{}]}, "mark": {"type": "text", "align": "left", "baseline": "alphabetic", "fontSize": 19.5, "color": "#22cc88"},
         "encoding": {"x": {"datum": 54.45}, "y": {"datum": 361}, "text": {"value": "[96-900-4202] Cl O12 P3 Pb5\u00a0 Pyromorphite"}}},
        {"data": {"values": [{}]}, "mark": {"type": "text", "align": "left", "baseline": "alphabetic", "fontSize": 19.5, "color": "#1aa7ee"},
         "encoding": {"x": {"datum": 54.45}, "y": {"datum": 337}, "text": {"value": "[96-901-2364] S16\u00a0 Sulfur"}}},
        {"data": {"values": [{}]}, "mark": {"type": "text", "align": "left", "baseline": "alphabetic", "fontSize": 19.5, "color": "#ff8c19"},
         "encoding": {"x": {"datum": 54.45}, "y": {"datum": 314}, "text": {"value": "[96-151-2531] Pb Elemental lead"}}}
      ]
    },
    {
      "width": 1233,
      "height": 28,
      "layer": [
        {
          "data": {"name": "ref"},
          "transform": [{"filter": "datum.p === 'B80 N'"}],
          "mark": {"type": "rule", "strokeWidth": 2},
          "encoding": {
            "x": {"field": "t", "type": "quantitative", "scale": {"domain": [5, 90.27], "nice": false, "zero": false},
                  "axis": {"grid": true, "gridColor": "#cfcfcf", "gridDash": [2, 2], "values": [10, 20, 30, 40, 50, 60, 70, 80, 90], "domain": true, "domainColor": "#c4c4c4", "domainWidth": 2}},
            "y": {"field": "i", "type": "quantitative", "scale": {"domain": [0, 112], "nice": false, "zero": false},
                  "axis": {"domain": true, "domainColor": "#1a1a1a", "domainWidth": 2}},
            "y2": {"datum": 0},
            "color": {"field": "p", "type": "nominal", "legend": null,
                      "scale": {"domain": ["B80 C", "B80 NC", "B80 N", "Galena", "Pyromorphite", "Sulfur", "Lead", "peaks"], "range": ["#000000", "#ff5a14", "#0000ff", "#ff1f1f", "#22cc88", "#1aa7ee", "#ff8c19", "#d9d9d9"]}}
          }
        },
        {"data": {"values": [{}]}, "mark": {"type": "text", "align": "left", "baseline": "alphabetic", "fontSize": 19.5, "color": "#0000ff"},
         "encoding": {"x": {"datum": 54.45}, "y": {"datum": 32, "axis": {"orient": "right", "domain": true, "domainColor": "#1a1a1a", "domainWidth": 2}}, "text": {"value": "B80 N"}}}
      ],
      "resolve": {"axis": {"y": "independent"}}
    },
    {
      "width": 1233,
      "height": 32,
      "layer": [
        {
          "data": {"name": "ref"},
          "transform": [{"filter": "datum.p === 'Galena'"}],
          "mark": {"type": "rule", "strokeWidth": 2},
          "encoding": {
            "x": {"field": "t", "type": "quantitative", "scale": {"domain": [5, 90.27], "nice": false, "zero": false},
                  "axis": {"grid": true, "gridColor": "#cfcfcf", "gridDash": [2, 2], "values": [10, 20, 30, 40, 50, 60, 70, 80, 90], "domain": true, "domainColor": "#c4c4c4", "domainWidth": 2}},
            "y": {"field": "i", "type": "quantitative", "scale": {"domain": [0, 123], "nice": false, "zero": false},
                  "axis": {"domain": true, "domainColor": "#1a1a1a", "domainWidth": 2}},
            "y2": {"datum": 0},
            "color": {"field": "p", "type": "nominal", "legend": null,
                      "scale": {"domain": ["B80 C", "B80 NC", "B80 N", "Galena", "Pyromorphite", "Sulfur", "Lead", "peaks"], "range": ["#000000", "#ff5a14", "#0000ff", "#ff1f1f", "#22cc88", "#1aa7ee", "#ff8c19", "#d9d9d9"]}}
          }
        },
        {"data": {"values": [{}]}, "mark": {"type": "text", "align": "right", "baseline": "alphabetic", "fontSize": 19.5, "color": "#ff0000"},
         "encoding": {"x": {"datum": 90.05}, "y": {"datum": 38, "axis": {"orient": "right", "domain": true, "domainColor": "#1a1a1a", "domainWidth": 2}}, "text": {"value": "[96-900-8695] Pb S\u00a0 Galena"}}}
      ],
      "resolve": {"axis": {"y": "independent"}}
    },
    {
      "width": 1233,
      "height": 30,
      "layer": [
        {
          "data": {"name": "ref"},
          "transform": [{"filter": "datum.p === 'Pyromorphite'"}],
          "mark": {"type": "rule", "strokeWidth": 2},
          "encoding": {
            "x": {"field": "t", "type": "quantitative", "scale": {"domain": [5, 90.27], "nice": false, "zero": false},
                  "axis": {"grid": true, "gridColor": "#cfcfcf", "gridDash": [2, 2], "values": [10, 20, 30, 40, 50, 60, 70, 80, 90], "domain": true, "domainColor": "#c4c4c4", "domainWidth": 2}},
            "y": {"field": "i", "type": "quantitative", "scale": {"domain": [0, 123], "nice": false, "zero": false},
                  "axis": {"domain": true, "domainColor": "#1a1a1a", "domainWidth": 2}},
            "y2": {"datum": 0},
            "color": {"field": "p", "type": "nominal", "legend": null,
                      "scale": {"domain": ["B80 C", "B80 NC", "B80 N", "Galena", "Pyromorphite", "Sulfur", "Lead", "peaks"], "range": ["#000000", "#ff5a14", "#0000ff", "#ff1f1f", "#22cc88", "#1aa7ee", "#ff8c19", "#d9d9d9"]}}
          }
        },
        {"data": {"values": [{}]}, "mark": {"type": "text", "align": "right", "baseline": "alphabetic", "fontSize": 19.5, "color": "#22cc88"},
         "encoding": {"x": {"datum": 90.05}, "y": {"datum": 32.5, "axis": {"orient": "right", "domain": true, "domainColor": "#1a1a1a", "domainWidth": 2}}, "text": {"value": "[96-900-4202] Cl O12 P3 Pb5\u00a0 Pyromorphite"}}}
      ],
      "resolve": {"axis": {"y": "independent"}}
    },
    {
      "width": 1233,
      "height": 32,
      "layer": [
        {
          "data": {"name": "ref"},
          "transform": [{"filter": "datum.p === 'Sulfur'"}],
          "mark": {"type": "rule", "strokeWidth": 1.6},
          "encoding": {
            "x": {"field": "t", "type": "quantitative", "scale": {"domain": [5, 90.27], "nice": false, "zero": false},
                  "axis": {"grid": true, "gridColor": "#cfcfcf", "gridDash": [2, 2], "values": [10, 20, 30, 40, 50, 60, 70, 80, 90], "domain": true, "domainColor": "#c4c4c4", "domainWidth": 2}},
            "y": {"field": "i", "type": "quantitative", "scale": {"domain": [0, 123], "nice": false, "zero": false},
                  "axis": {"domain": true, "domainColor": "#1a1a1a", "domainWidth": 2}},
            "y2": {"datum": 0},
            "color": {"field": "p", "type": "nominal", "legend": null,
                      "scale": {"domain": ["B80 C", "B80 NC", "B80 N", "Galena", "Pyromorphite", "Sulfur", "Lead", "peaks"], "range": ["#000000", "#ff5a14", "#0000ff", "#ff1f1f", "#22cc88", "#1aa7ee", "#ff8c19", "#d9d9d9"]}}
          }
        },
        {"data": {"values": [{}]}, "mark": {"type": "text", "align": "right", "baseline": "alphabetic", "fontSize": 19.5, "color": "#1aa7ee"},
         "encoding": {"x": {"datum": 90.05}, "y": {"datum": 34, "axis": {"orient": "right", "domain": true, "domainColor": "#1a1a1a", "domainWidth": 2}}, "text": {"value": "[96-901-2364] S16\u00a0 Sulfur"}}}
      ],
      "resolve": {"axis": {"y": "independent"}}
    },
    {
      "width": 1233,
      "height": 32,
      "layer": [
        {
          "data": {"name": "ref"},
          "transform": [{"filter": "datum.p === 'Lead'"}],
          "mark": {"type": "rule", "strokeWidth": 2},
          "encoding": {
            "x": {"field": "t", "type": "quantitative", "scale": {"domain": [5, 90.27], "nice": false, "zero": false},
                  "axis": {"grid": true, "gridColor": "#cfcfcf", "gridDash": [2, 2], "values": [10, 20, 30, 40, 50, 60, 70, 80, 90], "domain": true, "domainColor": "#c4c4c4", "domainWidth": 2,
                           "ticks": true, "tickColor": "#000000", "tickSize": 5, "tickWidth": 1.5, "labels": true, "format": ".2f", "labelFontSize": 17.5, "labelColor": "#000000", "labelPadding": 4, "labelFlush": false,
                           "title": "2theta", "titleFontSize": 18.5, "titleFontWeight": "normal", "titleColor": "#000000", "titleAnchor": "end", "titleBaseline": "alphabetic", "titleY": 45}},
            "y": {"field": "i", "type": "quantitative", "scale": {"domain": [0, 123], "nice": false, "zero": false},
                  "axis": {"domain": true, "domainColor": "#1a1a1a", "domainWidth": 2,
                           "title": "Co-Ka1 (1.789010 A)", "titleAngle": 0, "titleAlign": "left", "titleBaseline": "alphabetic", "titleX": -74, "titleY": 77, "titleFontSize": 19, "titleFontWeight": "normal", "titleColor": "#000000", "titlePadding": 0}},
            "y2": {"datum": 0},
            "color": {"field": "p", "type": "nominal", "legend": null,
                      "scale": {"domain": ["B80 C", "B80 NC", "B80 N", "Galena", "Pyromorphite", "Sulfur", "Lead", "peaks"], "range": ["#000000", "#ff5a14", "#0000ff", "#ff1f1f", "#22cc88", "#1aa7ee", "#ff8c19", "#d9d9d9"]}}
          }
        },
        {"data": {"values": [{}]}, "mark": {"type": "text", "align": "right", "baseline": "alphabetic", "fontSize": 19.5, "color": "#ff8c19"},
         "encoding": {"x": {"datum": 90.05}, "y": {"datum": 34, "axis": {"orient": "right", "domain": true, "domainColor": "#1a1a1a", "domainWidth": 2}}, "text": {"value": "[96-151-2531] Pb Elemental lead"}}}
      ],
      "resolve": {"axis": {"y": "independent"}}
    }
  ]
}
